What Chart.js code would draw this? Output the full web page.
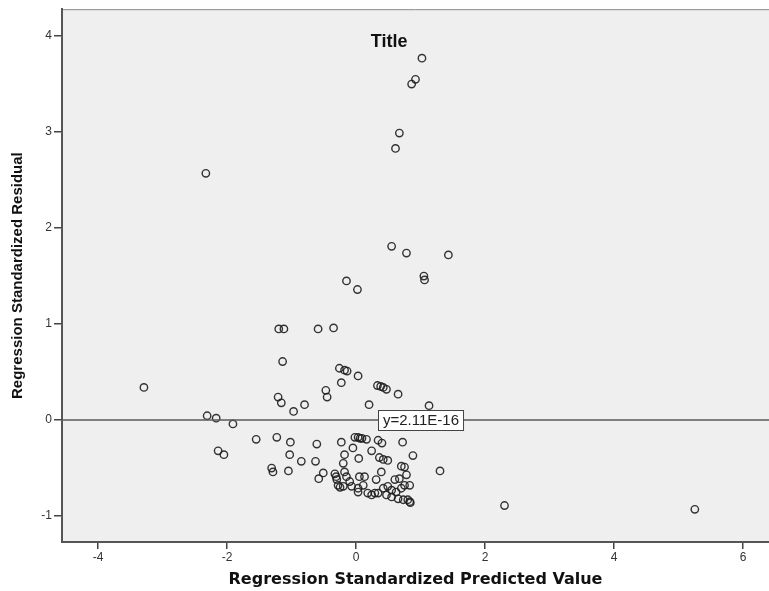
<!DOCTYPE html>
<html>
<head>
<meta charset="utf-8">
<script src="https://cdn.jsdelivr.net/npm/chart.js@4.4.0/dist/chart.umd.min.js"></script>
<style>
  html, body { margin: 0; padding: 0; background: #fff; }
  #wrap { width: 769px; height: 591px; }
</style>
</head>
<body>
<div id="wrap"><canvas id="myChart" width="769" height="591"></canvas></div>
<script>
// predicted value (x) and standardized residual (y)
let predicted = [
  1.02, 0.92, 0.86, 0.67, 0.61, -2.33, 0.55, 0.78, 1.43, 1.05,
  1.06, -0.15, 0.02, -1.20, -1.12, -0.59, -0.35, -1.14, -0.26, -0.18,
  -0.14, 0.03, -0.23, -0.47, -0.45, 0.33, 0.38, 0.42, 0.47, 0.65,
  0.20, 1.13, -0.80, -0.97, -1.21, -1.16, -3.29, -2.31, -2.17, -1.91,
  -1.55, -1.23, -1.02, -0.61, -0.23, -0.02, 0.03, 0.06, 0.09, 0.16,
  0.34, 0.40, 0.72, -0.05, 0.24, -2.14, -2.05, -1.03, -0.18, 0.04,
  0.36, 0.42, 0.49, 0.88, -0.85, -0.63, -0.20, 0.70, 0.75, 1.30,
  -1.31, -1.29, -1.05, -0.51, -0.58, -0.33, -0.31, -0.30, -0.28, -0.18,
  -0.15, 0.05, 0.13, 0.39, 0.31, 0.60, 0.67, 0.78, 0.83, -0.10,
  -0.07, -0.20, 0.03, 0.11, 0.18, 0.24, 0.29, 0.34, 0.42, 0.49,
  0.55, 0.62, 0.70, 0.75, 0.47, 0.55, 0.65, 0.73, 0.80, 0.83,
  0.84, 0.03, -0.25, 2.30, 5.25
]
let residual = [
  3.77, 3.55, 3.50, 2.99, 2.83, 2.57, 1.81, 1.74, 1.72, 1.50,
  1.46, 1.45, 1.36, 0.95, 0.95, 0.95, 0.96, 0.61, 0.54, 0.52,
  0.51, 0.46, 0.39, 0.31, 0.24, 0.36, 0.35, 0.34, 0.32, 0.27,
  0.16, 0.15, 0.16, 0.09, 0.24, 0.18, 0.34, 0.045, 0.02, -0.04,
  -0.20, -0.18, -0.23, -0.25, -0.23, -0.18, -0.18, -0.19, -0.19, -0.20,
  -0.21, -0.24, -0.23, -0.29, -0.32, -0.32, -0.36, -0.36, -0.36, -0.40,
  -0.39, -0.41, -0.42, -0.37, -0.43, -0.43, -0.45, -0.48, -0.49, -0.53,
  -0.50, -0.54, -0.53, -0.55, -0.61, -0.56, -0.59, -0.62, -0.68, -0.54,
  -0.59, -0.59, -0.59, -0.54, -0.62, -0.62, -0.61, -0.57, -0.68, -0.64,
  -0.69, -0.69, -0.71, -0.68, -0.76, -0.78, -0.76, -0.76, -0.71, -0.69,
  -0.73, -0.75, -0.71, -0.68, -0.78, -0.80, -0.82, -0.83, -0.83, -0.85,
  -0.86, -0.75, -0.70, -0.89, -0.93
]
let xTicks = [-4, -2, 0, 2, 4, 6]
let yTicks = [-1, 0, 1, 2, 3, 4]
let xRange = [-4.56, 6.4]
let yRange = [-1.27, 4.28]
let fitLineY = 2.11e-16
let fitLabel = 'y=2.11E-16'
let fitLabelX = 0.333
let chartTitle = 'Title'
let titleAt = [0.51, 3.94]

let points = predicted.map((v, i) => ({ x: v, y: residual[i] }))

const plotBox = {
  id: 'plotBox',
  beforeDraw(chart) {
    const { ctx, chartArea: a } = chart
    ctx.save()
    ctx.fillStyle = '#efefef'
    ctx.fillRect(a.left, a.top, a.right - a.left, a.bottom - a.top)
    ctx.strokeStyle = '#8a8a8a'
    ctx.lineWidth = 1
    ctx.beginPath()
    ctx.moveTo(a.left, a.top + 0.5)
    ctx.lineTo(a.right, a.top + 0.5)
    ctx.stroke()
    ctx.restore()
  },
  afterDatasetsDraw(chart) {
    const { ctx, scales } = chart
    ctx.save()
    // fit line label
    ctx.font = '15px "Liberation Sans", Arial, sans-serif'
    let w = ctx.measureText(fitLabel).width + 9
    let lx = Math.round(scales.x.getPixelForValue(fitLabelX)) + 0.5
    let ly = Math.round(scales.y.getPixelForValue(fitLineY))
    ctx.fillStyle = '#fff'
    ctx.fillRect(lx, ly - 10, w, 20)
    ctx.strokeStyle = '#444'
    ctx.lineWidth = 1
    ctx.strokeRect(lx, ly - 10 + 0.5, w, 20)
    ctx.fillStyle = '#222'
    ctx.textBaseline = 'middle'
    ctx.textAlign = 'center'
    ctx.fillText(fitLabel, lx + w / 2, ly + 1)
    // title inside the plot
    ctx.font = 'bold 18px "Liberation Sans", Arial, sans-serif'
    ctx.fillStyle = '#111'
    ctx.fillText(chartTitle, scales.x.getPixelForValue(titleAt[0]), scales.y.getPixelForValue(titleAt[1]))
    ctx.restore()
  }
}

const tickFont = { family: '"Liberation Sans", Arial, sans-serif', size: 12 }

new Chart(document.querySelector('#myChart'), {
  type: 'scatter',
  data: {
    datasets: [{
      type: 'line',
      data: [{ x: xRange[0], y: fitLineY }, { x: xRange[1], y: fitLineY }],
      borderColor: '#5a5a5a',
      borderWidth: 1.5,
      pointRadius: 0,
      fill: false
    }, {
      data: points,
      pointStyle: 'circle',
      pointRadius: 3.7,
      borderWidth: 1.4,
      borderColor: 'rgba(30,30,30,0.9)',
      backgroundColor: 'rgba(0,0,0,0)'
    }]
  },
  options: {
    responsive: false,
    animation: false,
    devicePixelRatio: 1,
    layout: { autoPadding: false, padding: { top: 9, right: 0, left: 0, bottom: 0 } },
    plugins: { legend: { display: false }, tooltip: { enabled: false } },
    scales: {
      x: {
        type: 'linear',
        position: 'bottom',
        min: xRange[0],
        max: xRange[1],
        afterBuildTicks: s => { s.ticks = xTicks.map(v => ({ value: v })) },
        afterFit: s => { s.height = 49 },
        grid: { drawOnChartArea: false, drawTicks: true, tickLength: 7, color: '#444', lineWidth: 1.5 },
        border: { display: true, color: '#555', width: 2 },
        ticks: { font: tickFont, color: '#333', padding: 1, autoSkip: false, maxRotation: 0 },
        title: {
          display: true,
          text: 'Regression Standardized Predicted Value',
          font: { family: '"DejaVu Sans", Verdana, sans-serif', size: 16, weight: 'bold' },
          color: '#111',
          padding: { top: 0, bottom: 2 }
        }
      },
      y: {
        type: 'linear',
        position: 'left',
        min: yRange[0],
        max: yRange[1],
        afterBuildTicks: s => { s.ticks = yTicks.map(v => ({ value: v })) },
        afterFit: s => { s.width = 62 },
        grid: { drawOnChartArea: false, drawTicks: true, tickLength: 8, color: '#444', lineWidth: 1.5 },
        border: { display: true, color: '#555', width: 2 },
        ticks: { font: tickFont, color: '#333', padding: 2, autoSkip: false },
        title: {
          display: true,
          text: 'Regression Standardized Residual',
          font: { family: '"Liberation Sans", Arial, sans-serif', size: 15, weight: 'bold' },
          color: '#111',
          padding: { top: 9, bottom: 0 }
        }
      }
    }
  },
  plugins: [plotBox]
})
</script>
</body>
</html>
